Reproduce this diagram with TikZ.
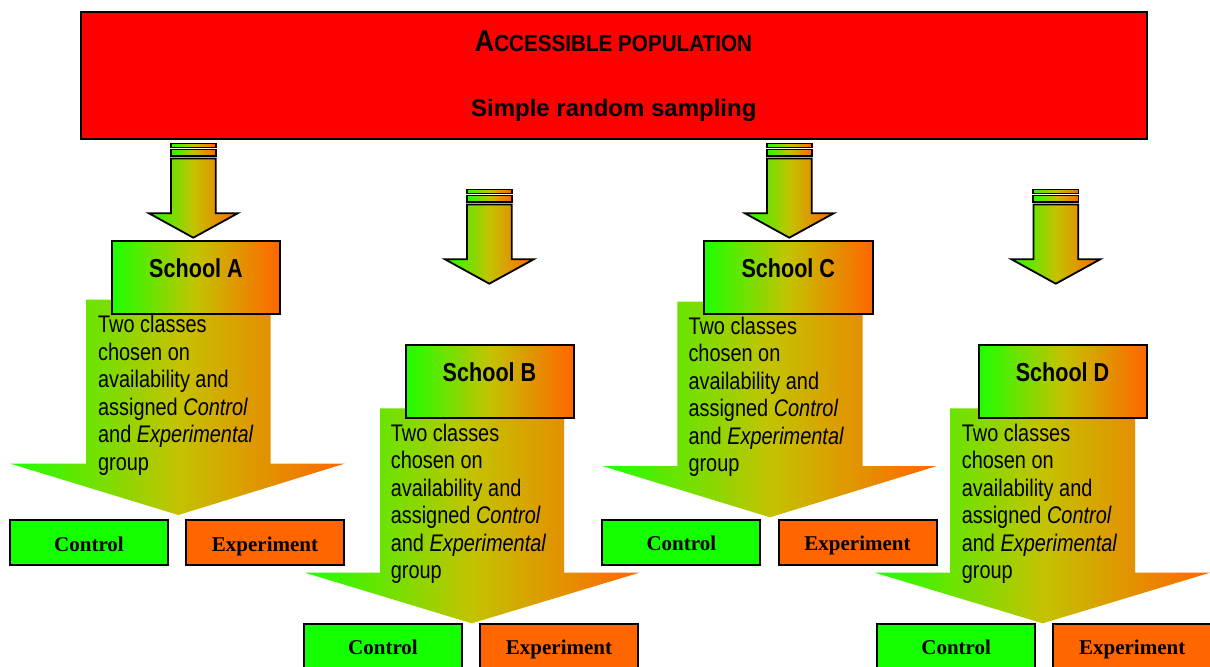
\documentclass[tikz,border=0pt]{standalone}
\usepackage{fontspec}
\setmainfont{Liberation Sans}
\newfontfamily\bodyfont[FakeStretch=0.83]{Liberation Sans}
\newfontfamily\headfont[FakeStretch=0.89]{Liberation Sans}
\newfontfamily\groupfont{Liberation Serif}
\usepackage{xcolor}
\definecolor{grgreen}{RGB}{30,255,0}
\definecolor{grolive}{RGB}{195,195,0}
\definecolor{grorange}{RGB}{255,102,0}
\definecolor{boxgreen}{RGB}{20,255,0}

\begin{document}
\begin{tikzpicture}[x=0.5pt,y=-0.5pt,thick,
    grad/.style={left color=grgreen,right color=grorange,middle color=grolive},
    bigarrow/.style={grad,draw=none},
    smallarrow/.style={grad,draw=black,line width=0.9pt},
    schoolbox/.style={grad,draw=black,line width=1pt,minimum width=84pt,
      minimum height=36.5pt,inner sep=0pt,text height=9pt,text depth=9pt,
      font={\bodyfont\bfseries\fontsize{13}{15}\selectfont}},
    groupbox/.style={draw=black,line width=1pt,minimum width=79pt,
      minimum height=22.5pt,inner sep=0pt,text height=9pt,text depth=0.5pt,
      font={\groupfont\bfseries\fontsize{10.5}{12}\selectfont}},
    ctrlbox/.style={groupbox,fill=boxgreen},
    expbox/.style={groupbox,fill=grorange},
    bodytext/.style={anchor=north west,inner sep=0pt,align=left,
      font={\bodyfont\fontsize{12}{13.75}\selectfont}}]

      \useasboundingbox (0,0) rectangle (1210,666);
      \fill[white] (0,0) rectangle (1210,666);

      % population
      \node [draw=black, line width=1pt, fill=red, minimum width=533pt,
      minimum height=63.5pt, inner sep=0pt] (pop) at (614,75.5) {};
      \node [anchor=base, inner sep=0pt, font=\headfont\bfseries] (poptitle)
      at (613.5,51.7) {{\fontsize{15}{18}\selectfont A}{\fontsize{11.6}{14}\selectfont CCESSIBLE POPULATION}};
      \node [anchor=base, inner sep=0pt, font={\bfseries\fontsize{12}{14}\selectfont}]
      (popsampling) at (613.8,116.7) {Simple random sampling};

      % big arrows
      \path [bigarrow] (86,299.5) -- (86,463.5) -- (10,463.5) -- (178.3,515)
      -- (345,463.5) -- (270.7,463.5) -- (270.7,299.5) -- cycle;
      \path [bigarrow] (380,408.3) -- (380,572.7) -- (305,572.7) -- (471.7,623.3)
      -- (639.3,572.7) -- (564,572.7) -- (564,408.3) -- cycle;
      \path [bigarrow] (677.3,301.7) -- (677.3,466) -- (602.3,466) -- (770,517.3)
      -- (936.7,466) -- (862.7,466) -- (862.7,301.7) -- cycle;
      \path [bigarrow] (950,408.3) -- (950,572.7) -- (875,572.7) -- (1042.7,623.3)
      -- (1210,572.7) -- (1135,572.7) -- (1135,408.3) -- cycle;

      % small arrows
      \path [smallarrow] (170.7,143.5) rectangle (216,147.5);
      \path [smallarrow] (170.7,149.5) rectangle (216,156);
      \path [smallarrow] (171,158.5) -- (171,213.3) -- (149,213.3) -- (193.3,237.7)
      -- (237.7,213.3) -- (215.7,213.3) -- (215.7,158.5) -- cycle;

      \path [smallarrow] (466.7,189.5) rectangle (512,193.5);
      \path [smallarrow] (466.7,195.5) rectangle (512,202);
      \path [smallarrow] (467,204.5) -- (467,259.3) -- (445,259.3) -- (489.3,283.7)
      -- (533.7,259.3) -- (511.7,259.3) -- (511.7,204.5) -- cycle;

      \path [smallarrow] (766.7,143.5) rectangle (812,147.5);
      \path [smallarrow] (766.7,149.5) rectangle (812,156);
      \path [smallarrow] (767,158.5) -- (767,213.3) -- (745,213.3) -- (789.3,237.7)
      -- (833.7,213.3) -- (811.7,213.3) -- (811.7,158.5) -- cycle;

      \path [smallarrow] (1033.2,189.5) rectangle (1078.5,193.5);
      \path [smallarrow] (1033.2,195.5) rectangle (1078.5,202);
      \path [smallarrow] (1033.5,204.5) -- (1033.5,259.3) -- (1011.5,259.3) -- (1055.8,283.7)
      -- (1100.2,259.3) -- (1078.2,259.3) -- (1078.2,204.5) -- cycle;

      % school A
      \node [schoolbox] (schoolA) at (196,277.5) {School A};
      \node [bodytext] (txtA) at (97.3,314.5) {Two classes\\chosen on\\availability and\\
      assigned \textit{Control}\\and \textit{Experimental}\\group};
      \node [ctrlbox] (ctrlA) at (89,542.5) {Control};
      \node [expbox] (expA) at (265,542.5) {Experiment};

      % school B
      \node [schoolbox] (schoolB) at (489.5,381) {School B};
      \node [bodytext] (txtB) at (390,422.8) {Two classes\\chosen on\\availability and\\
      assigned \textit{Control}\\and \textit{Experimental}\\group};
      \node [ctrlbox] (ctrlB) at (383,646) {Control};
      \node [expbox] (expB) at (559,646) {Experiment};

      % school C
      \node [schoolbox, minimum width=84.3pt] (schoolC) at (788.3,277.5) {School C};
      \node [bodytext] (txtC) at (687.7,316.1) {Two classes\\chosen on\\availability and\\
      assigned \textit{Control}\\and \textit{Experimental}\\group};
      \node [ctrlbox] (ctrlC) at (681.3,542.3) {Control};
      \node [expbox] (expC) at (857.5,542.3) {Experiment};

      % school D
      \node [schoolbox] (schoolD) at (1062.5,381) {School D};
      \node [bodytext] (txtD) at (961,422.8) {Two classes\\chosen on\\availability and\\
      assigned \textit{Control}\\and \textit{Experimental}\\group};
      \node [ctrlbox] (ctrlD) at (956.2,646) {Control};
      \node [expbox] (expD) at (1132.2,646) {Experiment};

\end{tikzpicture}
\end{document}
